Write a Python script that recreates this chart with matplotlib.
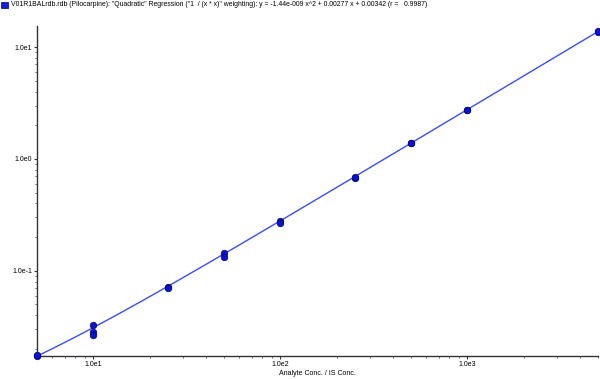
import numpy as np
import matplotlib.pyplot as plt
from matplotlib.ticker import LogLocator, FixedLocator, NullFormatter

plt.rcParams['font.family'] = ['Liberation Sans', 'DejaVu Sans']

# calibration standards (analyte conc / IS conc vs area ratio)
conc  = [5, 5, 10, 10, 10, 25, 25, 50, 50, 100, 100, 250, 250, 500, 500, 1000, 1000, 5000, 5000]
ratio = [0.0172, 0.0176, 0.0330, 0.0281, 0.0265, 0.0720, 0.0705, 0.1445, 0.1330,
         0.2810, 0.2700, 0.6780, 0.6850, 1.3880, 1.4000, 2.7300, 2.7600, 13.70, 13.80]

# quadratic fit from the title
a, b, c = -1.44e-9, 0.00277, 0.00342

title = ('V01R1BALrdb.rdb (Pilocarpine): "Quadratic" Regression ("1  / (x * x)" weighting): '
         'y = -1.44e-009 x^2 + 0.00277 x + 0.00342 (r =   0.9987)')

fig = plt.figure(figsize=(6, 3.79), dpi=100)
ax = fig.add_axes([0.062, 0.06, 0.935, 0.871])

xs = np.logspace(np.log10(5), np.log10(5000), 200)
ax.plot(xs, a * xs**2 + b * xs + c, color="#3a4cff", lw=1.0, zorder=2)
ax.scatter(conc, ratio, s=22, color="#0a14c8", edgecolor="#00007a", lw=0.5, zorder=3, clip_on=False)

ax.set_xscale("log")
ax.set_yscale("log")
ax.set_xlim(5, 5000)
ax.set_ylim(0.0172, 15.4)

ax.xaxis.set_major_locator(FixedLocator([10, 100, 1000]))
ax.yaxis.set_major_locator(FixedLocator([0.1, 1, 10]))
ax.xaxis.set_minor_locator(LogLocator(base=10, subs=np.arange(2, 10)))
ax.yaxis.set_minor_locator(LogLocator(base=10, subs=np.arange(2, 10)))
ax.xaxis.set_minor_formatter(NullFormatter())
ax.yaxis.set_minor_formatter(NullFormatter())
ax.set_xticklabels(["1.0e1", "1.0e2", "1.0e3"])
ax.set_yticklabels(["1.0e-1", "1.0e0", "1.0e1"])

ax.tick_params(labelsize=5, length=2.5, width=0.8, color="#333333", pad=1)
ax.tick_params(which="minor", length=1.5, width=0.6, color="#555555")

for s in ["top", "right"]:
    ax.spines[s].set_visible(False)
for s in ["left", "bottom"]:
    ax.spines[s].set_color("#333333")
    ax.spines[s].set_linewidth(1.0)

ax.set_xlabel("Analyte Conc. / IS Conc.", fontsize=5, labelpad=1)

fig.patches.append(plt.Rectangle((0.002, 0.978), 0.011, 0.018, transform=fig.transFigure,
                                 facecolor="#1020e0", edgecolor="#000060", lw=0.5))
fig.text(0.018, 0.987, title, fontsize=4.95, va="center", ha="left")

fig.savefig("out.png", dpi=100)
